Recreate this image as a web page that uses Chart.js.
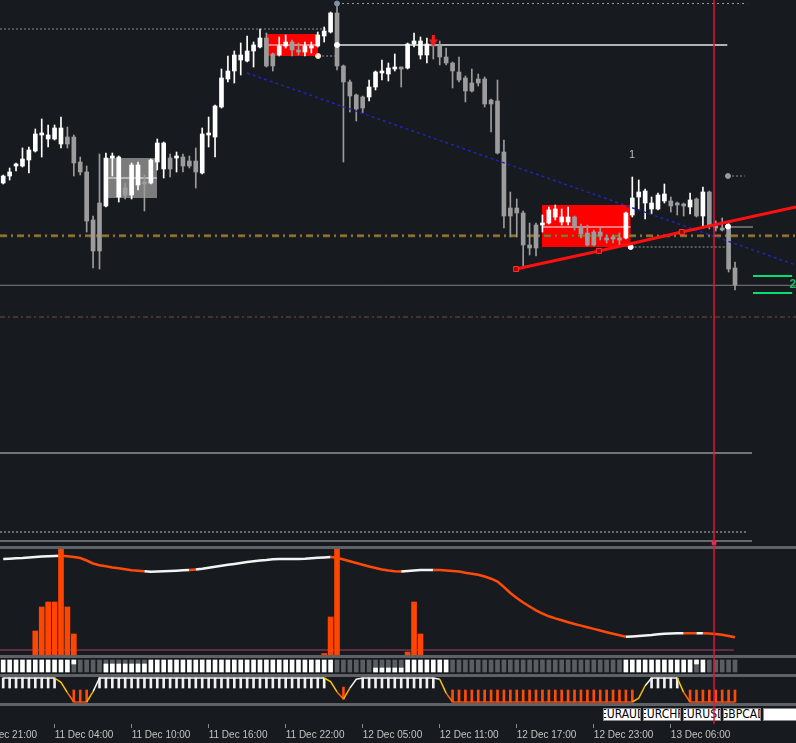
<!DOCTYPE html>
<html>
<head>
<meta charset="utf-8">
<title>GBPCAD M30</title>
<script src="https://cdn.jsdelivr.net/npm/chart.js@4.4.1/dist/chart.umd.min.js"></script>
<style>
  html, body { margin: 0; padding: 0; background: #171a1e; overflow: hidden; }
  #wrap { position: relative; width: 796px; height: 743px; overflow: hidden; background: #171a1e; }
  #wrap canvas { position: absolute; left: 0; }
  .sep { position: absolute; left: 0; width: 796px; height: 3px; background: #5e6165; }
  .sym { position: absolute; top: 708px; height: 13px; width: 38px; box-sizing: border-box;
         background: #fff; color: #000; border: 1px solid #8a8a8a;
         font: 12px "Liberation Sans Narrow", "DejaVu Sans Condensed", sans-serif; line-height: 11px;
         overflow: hidden; white-space: nowrap; text-indent: -4px; }
</style>
</head>
<body>
<div id="wrap">
  <canvas id="main" width="796" height="546" style="top:0"></canvas>
  <div class="sep" style="top:546px"></div>
  <canvas id="ind1" width="796" height="106" style="top:549px"></canvas>
  <div class="sep" style="top:655px"></div>
  <canvas id="ind2" width="796" height="16" style="top:658px"></canvas>
  <div class="sep" style="top:674px"></div>
  <canvas id="ind3" width="796" height="26" style="top:677px"></canvas>
  <div class="sep" style="top:703px"></div>
  <div class="sym" style="left:603px">EURAUD</div>
  <div class="sym" style="left:643px">EURCHF</div>
  <div class="sym" style="left:683px">EURUSD</div>
  <div class="sym" style="left:723px">GBPCAD</div>
  <div class="sym" style="left:763px;width:40px"></div>
  <canvas id="axis" width="828" height="743" style="top:0;left:-32px;pointer-events:none"></canvas>
</div>
<script>
// 30 minute bars, GBPCAD
const barOpen = [
  1.7817,1.7824,1.7834,1.7834,1.7840,1.7849,1.7865,1.7861,1.7861,1.7856,
  1.7863,1.7863,1.7838,1.7828,1.7780,1.7797,1.7794,1.7842,1.7803,1.7812,
  1.7805,1.7815,1.7818,1.7817,1.7838,1.7831,1.7842,1.7842,1.7843,1.7839,
  1.7839,1.7827,1.7865,1.7863,1.7893,1.7921,1.7929,1.7940,1.7939,1.7949,
  1.7953,1.7962,1.7946,1.7945,1.7954,1.7958,1.7950,1.7948,1.7952,1.7954,
  1.7964,1.7968,1.7987,1.7934,1.7918,1.7905,1.7903,1.7903,1.7913,1.7927,
  1.7926,1.7931,1.7932,1.7932,1.7956,1.7945,1.7945,1.7956,1.7954,1.7943,
  1.7937,1.7928,1.7922,1.7917,1.7921,1.7921,1.7900,1.7899,1.7848,1.7792,
  1.7792,1.7787,1.7755,1.7775,1.7775,1.7777,1.7783,1.7778,1.7778,1.7783,
  1.7773,1.7767,1.7768,1.7768,1.7762,1.7762,1.7762,1.7762,1.7785,1.7803,
  1.7797,1.7791,1.7791,1.7799,1.7799,1.7796,1.7796,1.7793,1.7801,1.7784,
  1.7808,1.7774,1.7772,1.7775,1.7732
];
const barHigh = [
  1.7825,1.7832,1.7837,1.7852,1.7853,1.7871,1.7881,1.7875,1.7875,1.7883,
  1.7873,1.7865,1.7843,1.7834,1.7784,1.7846,1.7847,1.7847,1.7844,1.7817,
  1.7837,1.7838,1.7825,1.7841,1.7861,1.7858,1.7846,1.7848,1.7846,1.7844,
  1.7852,1.7872,1.7883,1.7895,1.7931,1.7944,1.7949,1.7957,1.7964,1.7958,
  1.7971,1.7967,1.7947,1.7963,1.7965,1.7960,1.7957,1.7958,1.7958,1.7968,
  1.7973,1.7988,1.7997,1.7935,1.7920,1.7906,1.7904,1.7920,1.7929,1.7940,
  1.7937,1.7946,1.7933,1.7957,1.7967,1.7963,1.7962,1.7957,1.7959,1.7952,
  1.7938,1.7943,1.7924,1.7931,1.7926,1.7923,1.7901,1.7920,1.7860,1.7808,
  1.7801,1.7789,1.7777,1.7777,1.7785,1.7793,1.7795,1.7791,1.7793,1.7784,
  1.7776,1.7775,1.7770,1.7772,1.7765,1.7765,1.7767,1.7788,1.7823,1.7820,
  1.7811,1.7803,1.7807,1.7816,1.7803,1.7798,1.7797,1.7807,1.7802,1.7813,
  1.7809,1.7779,1.7782,1.7777,1.7738
];
const barLow = [
  1.7816,1.7820,1.7829,1.7833,1.7827,1.7848,1.7843,1.7853,1.7860,1.7852,
  1.7852,1.7824,1.7825,1.7768,1.7732,1.7731,1.7793,1.7824,1.7798,1.7801,
  1.7801,1.7810,1.7789,1.7816,1.7830,1.7822,1.7823,1.7828,1.7828,1.7832,
  1.7812,1.7826,1.7853,1.7843,1.7892,1.7918,1.7917,1.7925,1.7938,1.7933,
  1.7952,1.7933,1.7929,1.7944,1.7952,1.7944,1.7945,1.7944,1.7947,1.7953,
  1.7958,1.7967,1.7930,1.7838,1.7888,1.7879,1.7887,1.7899,1.7910,1.7920,
  1.7919,1.7929,1.7913,1.7931,1.7953,1.7941,1.7937,1.7941,1.7935,1.7935,
  1.7912,1.7918,1.7898,1.7908,1.7914,1.7893,1.7868,1.7846,1.7772,1.7763,
  1.7763,1.7732,1.7745,1.7744,1.7768,1.7776,1.7780,1.7775,1.7775,1.7770,
  1.7762,1.7754,1.7754,1.7760,1.7757,1.7757,1.7754,1.7761,1.7783,1.7791,
  1.7781,1.7786,1.7790,1.7797,1.7788,1.7785,1.7784,1.7786,1.7783,1.7774,
  1.7771,1.7769,1.7769,1.7728,1.7710
];
const barClose = [
  1.7824,1.7828,1.7836,1.7841,1.7850,1.7866,1.7866,1.7865,1.7872,1.7872,
  1.7856,1.7837,1.7828,1.7779,1.7749,1.7749,1.7842,1.7844,1.7843,1.7805,
  1.7835,1.7835,1.7816,1.7840,1.7857,1.7857,1.7831,1.7843,1.7834,1.7834,
  1.7828,1.7866,1.7866,1.7894,1.7922,1.7929,1.7945,1.7945,1.7949,1.7955,
  1.7962,1.7934,1.7934,1.7954,1.7958,1.7950,1.7948,1.7954,1.7954,1.7965,
  1.7969,1.7987,1.7934,1.7918,1.7904,1.7891,1.7892,1.7913,1.7928,1.7928,
  1.7932,1.7933,1.7931,1.7956,1.7959,1.7959,1.7956,1.7954,1.7943,1.7937,
  1.7929,1.7920,1.7909,1.7909,1.7917,1.7896,1.7896,1.7847,1.7784,1.7784,
  1.7787,1.7755,1.7752,1.7752,1.7777,1.7790,1.7791,1.7783,1.7783,1.7773,
  1.7766,1.7755,1.7755,1.7764,1.7760,1.7761,1.7760,1.7787,1.7802,1.7808,
  1.7809,1.7797,1.7805,1.7806,1.7794,1.7795,1.7794,1.7800,1.7784,1.7808,
  1.7774,1.7772,1.7770,1.7731,1.7715
];

// time axis
const tickBars = [-4, 8, 20, 32, 44, 56, 68, 80, 92, 104];
const tickLabels = ['10 Dec 21:00', '11 Dec 04:00', '11 Dec 10:00', '11 Dec 16:00', '11 Dec 22:00',
                    '12 Dec 05:00', '12 Dec 11:00', '12 Dec 17:00', '12 Dec 23:00', '13 Dec 06:00'];

// indicator 1: smoothed trend line + spikes
const trendLine = [
  96,96.3,96.7,97,97.5,98,98.4,98.7,99,99.2,
  98.7,98,97,94.5,91.5,89.8,88.7,87.6,86.7,85.7,
  84.8,84.2,83.7,83.3,83.6,83.8,84,84.3,84.7,85,
  85.5,86.3,87.3,88.3,89.2,90.2,91.1,92,93,93.7,
  94.5,95,95.7,96,96,96,96,96.3,96.8,97.2,
  97.6,98,97.2,95.5,93.7,92,90.2,88.5,87,85.6,
  84.6,83.8,83.4,84,84.5,85,85,85,85,84.5,
  84,83.4,82.2,81.2,80.2,78.5,76.3,73.5,68,62,
  57,52.5,48.5,44.7,41.5,38.7,36.6,34.7,32.8,31,
  29.4,27.7,26.1,24.5,22.8,21.2,19.7,18.3,18.6,19,
  19.5,20,20.8,21.2,21.5,21.7,21.7,21.8,21.8,21.7,
  21.6,21,20.2,19,17.7
];
const trendUpRuns = [[0, 9], [23, 29], [31, 51], [63, 67], [98, 106], [109, 109]];
const spikeBars = [5, 6, 7, 8, 9, 10, 11, 50, 51, 52, 63, 64, 65];
const spikeVals = [24, 48, 53, 53, 110, 48, 21, 1.5, 38, 110, 3, 53, 21];

// indicator 2: state blocks
const ind2Full = [[0, 10], [23, 51], [63, 69], [97, 107], [109, 109]];
const ind2Half = [[16, 22]];
const ind2Low = [[58, 62]];
const ind2Cap = [11, 108];

// indicator 3: oscillator 0..1
const osc = [
  1,1,1,1,1,1,1,1,1,0.82,
  0.39,0,0,0,0.43,1,1,1,1,1,
  1,1,1,1,1,1,1,1,1,1,
  1,1,1,1,1,1,1,1,1,1,
  1,1,1,1,1,1,1,1,1,1,
  1,0.85,0.42,0.12,0.58,0.95,1,1,1,1,
  1,1,1,1,1,1,1,1,0.95,0.37,
  0,0,0,0,0,0,0,0,0,0,
  0,0,0,0,0,0,0,0,0,0,
  0,0,0,0,0,0,0,0,0,0.16,
  0.68,1,1,1,1,1,0.4,0,0,0,
  0,0,0,0,0
];

// chart objects (bar index, price)
const cursorBar = 110.73;
const redBox1 = [41.1, 49.05, 1.7966, 1.7944, 1.7955];
const grayBox = [15.86, 23.96, 1.7842, 1.7802, 1.7822];
const redBox2 = [83.9, 97.75, 1.7795, 1.7753, 1.7773];
const trendBars = [79.9, 92.8, 105.7, 123.5];
const trendPrices = [1.7731, 1.7749, 1.7768, 1.7793];
const blueBars = [37.98, 123.5];
const bluePrices = [1.7927, 1.7735];
const dotBars = [52, 52, 49.05, 97.75, 112.9, 112.9];
const dotPrices = [1.79965, 1.7955, 1.7944, 1.7753, 1.77735, 1.7824];
const dotColors = ['#7f93a8', '#ffffff', '#ffe6d8', '#ffffff', '#ffffff', '#9a9a9a'];
const noteBars = [97.95, 123.0];
const notePrices = [1.7845, 1.7715];
const noteTexts = ['1', '2'];

Chart.defaults.animation = false;
Chart.defaults.font.family = '"Liberation Sans", sans-serif';
Chart.defaults.elements.point.radius = 0;
Chart.defaults.elements.point.hoverRadius = 0;
Chart.defaults.elements.line.borderWidth = 1;
Chart.defaults.plugins.legend.display = false;
Chart.defaults.plugins.tooltip.enabled = false;

const xMin = -0.5, xMax = 123.5;
const idx = barOpen.map((_, i) => i);
const inRuns = (runs, i) => runs.some(([a, b]) => i >= a && i <= b);
const candleColor = idx.map(i => barClose[i] >= barOpen[i] ? '#ffffff' : '#9c9c9c');

function hline(y, x0, x1, color, extra) {
  return Object.assign({ type: 'line', data: [{ x: x0, y: y }, { x: x1, y: y }],
    borderColor: color, borderWidth: 1, order: 12 }, extra || {});
}
function box(b, color) {
  return { type: 'line', data: [{ x: b[0], y: b[2] }, { x: b[1], y: b[2] }],
    borderWidth: 0, borderColor: 'rgba(0,0,0,0)', backgroundColor: color,
    fill: { value: b[3] }, order: 20 };
}
function baseOpts(yMin, yMax) {
  return {
    responsive: false, events: [], layout: { padding: 0, autoPadding: false },
    scales: {
      x: { type: 'linear', min: xMin, max: xMax, offset: false, display: false },
      y: { min: yMin, max: yMax, display: false }
    }
  };
}

// red down arrow marker
const arrowImg = document.createElement('canvas');
arrowImg.width = 9; arrowImg.height = 12;
const actx = arrowImg.getContext('2d');
actx.fillStyle = '#ff1a1a';
actx.fillRect(3, 0, 3, 6);
actx.beginPath(); actx.moveTo(0, 5); actx.lineTo(9, 5); actx.lineTo(4.5, 12); actx.closePath(); actx.fill();

const notesPlugin = {
  id: 'notes',
  afterDatasetsDraw(chart) {
    const { ctx, scales: { x, y } } = chart;
    ctx.save();
    ctx.textAlign = 'center';
    ctx.textBaseline = 'middle';
    noteTexts.forEach((t, k) => {
      ctx.font = k ? 'bold 12px "Liberation Sans"' : '11px "Liberation Sans"';
      ctx.fillStyle = k ? '#22b866' : '#b4bcc4';
      ctx.fillText(t, x.getPixelForValue(noteBars[k]), y.getPixelForValue(notePrices[k]));
    });
    ctx.restore();
  }
};

// main price chart
new Chart(document.getElementById('main'), {
  type: 'bar',
  data: {
    datasets: [
      box(redBox1, '#ff0000'),
      box(grayBox, '#7c7c7c'),
      box(redBox2, '#ff0000'),
      hline(redBox1[4], redBox1[0], redBox1[1], '#f0f0f0', { order: 11 }),
      hline(grayBox[4], grayBox[0], grayBox[1], '#f0f0f0', { order: 11 }),
      hline(redBox2[4], redBox2[0], redBox2[1], '#f0f0f0', { order: 11 }),
      hline(1.7971, xMin, 50.4, '#8c8c8c', { borderDash: [2, 2] }),
      hline(1.79965, 52, 115.9, '#9a9a9a', { borderDash: [2, 3] }),
      hline(1.7955, 52, 112.8, '#e6e6e6', { borderWidth: 1.3 }),
      hline(1.7944, 49.05, 52, '#9a9a9a', { borderDash: [2, 2] }),
      hline(1.7773, 112.45, 116.8, '#b0b0b0'),
      hline(1.7753, 97.75, 112.45, '#9a9a9a', { borderDash: [2, 2] }),
      hline(1.7824, 112.9, 115.5, '#8a8a8a', { borderDash: [2, 2] }),
      hline(1.77643, xMin, xMax, '#2e7d3a', { borderWidth: 3, borderDash: [7, 4, 2, 4], order: 13 }),
      hline(1.77643, xMin, xMax, '#d8581c', { borderWidth: 1.5, borderDash: [7, 4, 2, 4], order: 12 }),
      hline(1.77147, xMin, xMax, '#7e7e7e'),
      hline(1.7683, xMin, xMax, '#7c4a32', { borderDash: [5, 3, 2, 3] }),
      hline(1.7547, xMin, 116.65, '#cfcfcf'),
      hline(1.7468, xMin, 116.0, '#bdbdbd', { borderDash: [2, 2] }),
      hline(1.7459, xMin, 116.65, '#b8b8b8'),
      hline(1.7724, 116.8, 122.9, '#00e070', { borderWidth: 2 }),
      hline(1.7707, 116.8, 122.9, '#00e070', { borderWidth: 2 }),
      {
        label: 'wick', order: 6, grouped: false, barThickness: 1,
        data: idx.map(i => ({ x: i, y: [barLow[i], barHigh[i]] })),
        backgroundColor: candleColor
      },
      {
        label: 'body', order: 5, grouped: false, barThickness: 4, minBarLength: 2,
        data: idx.map(i => ({ x: i, y: [barOpen[i], barClose[i]] })),
        backgroundColor: candleColor
      },
      {
        type: 'line', order: 2, borderColor: '#2323b4', borderWidth: 1.5, borderDash: [3, 3],
        data: blueBars.map((b, k) => ({ x: b, y: bluePrices[k] }))
      },
      {
        type: 'line', order: 1, borderColor: '#ff1010', borderWidth: 3,
        data: trendBars.map((b, k) => ({ x: b, y: trendPrices[k] })),
        pointStyle: 'rect', pointRadius: [3.5, 3.5, 3.5, 0],
        pointBackgroundColor: '#b00000', pointBorderColor: '#ff3030', pointBorderWidth: 1
      },
      {
        type: 'line', order: 1, showLine: false,
        data: dotBars.map((b, k) => ({ x: b, y: dotPrices[k] })),
        pointRadius: 2.5, pointBackgroundColor: dotColors, pointBorderColor: dotColors
      },
      {
        type: 'line', order: 1, showLine: false,
        data: [{ x: 67, y: 1.79595 }], pointStyle: arrowImg, pointRadius: 6
      },
      {
        type: 'line', order: 1, showLine: false,
        data: [{ x: cursorBar, y: 1.7457 }], pointStyle: 'rect', pointRadius: 2.5,
        pointBackgroundColor: '#ff6a8a', pointBorderColor: '#ff2050'
      }
    ]
  },
  options: baseOpts(1.7454, 1.8000),
  plugins: [notesPlugin]
});

// indicator 1
const trendUp = idx.map(i => inRuns(trendUpRuns, i));
new Chart(document.getElementById('ind1'), {
  type: 'bar',
  data: {
    datasets: [
      {
        order: 1, grouped: false, barThickness: 5,
        data: spikeBars.map((b, k) => ({ x: b, y: [0, spikeVals[k]] })),
        backgroundColor: '#ff4500'
      },
      {
        type: 'line', order: 2, borderWidth: 2.5,
        data: trendLine.map((v, i) => ({ x: i, y: v })),
        segment: { borderColor: c => trendUp[c.p1DataIndex] ? '#f4f4f4' : '#ff4a0a' }
      },
      hline(5, xMin, 113.8, '#a8406e', { order: 3 })
    ]
  },
  options: baseOpts(0, 106)
});

// indicator 2
const ind2Top = idx.map(i => {
  if (inRuns(ind2Full, i)) return 14;
  if (inRuns(ind2Half, i)) return 10;
  if (inRuns(ind2Low, i)) return 6;
  return 0;
});
new Chart(document.getElementById('ind2'), {
  type: 'bar',
  data: {
    datasets: [
      {
        order: 2, grouped: false, barThickness: 4,
        data: idx.filter(i => ind2Top[i] < 14).map(i => ({ x: i, y: [2, 14] })),
        backgroundColor: '#5a5d61'
      },
      {
        order: 1, grouped: false, barThickness: 4,
        data: idx.filter(i => ind2Top[i] > 0).map(i => ({ x: i, y: [2, ind2Top[i]] })),
        backgroundColor: '#ffffff'
      },
      {
        order: 1, grouped: false, barThickness: 4,
        data: ind2Cap.map(i => ({ x: i, y: [10, 14] })),
        backgroundColor: '#ffffff'
      }
    ]
  },
  options: baseOpts(0, 16)
});

// indicator 3
const oscLevel = osc.map(v => 1 + 24 * v);
function oscColor(c) {
  const a = osc[c.p0DataIndex], b = osc[c.p1DataIndex];
  if (a >= 0.95 && b >= 0.95) return '#f4f4f4';
  if (a <= 0.15 && b <= 0.15) return '#ff4a0a';
  const avg = (a + b) / 2;
  if (b > a) return avg > 0.6 ? '#f4f4f4' : '#f2b400';
  return avg > 0.5 ? '#ffc400' : '#ff6a00';
}
new Chart(document.getElementById('ind3'), {
  type: 'bar',
  data: {
    datasets: [
      {
        type: 'line', order: 1, borderWidth: 1.5,
        data: oscLevel.map((v, i) => ({ x: i, y: v })),
        segment: { borderColor: oscColor }
      },
      {
        order: 2, grouped: false, barThickness: 2,
        data: idx.filter(i => osc[i] >= 0.97).map(i => ({ x: i, y: [oscLevel[i] - 10, oscLevel[i]] })),
        backgroundColor: '#f0f0f0'
      },
      {
        order: 2, grouped: false, barThickness: 2,
        data: idx.filter(i => osc[i] <= 0.15).map(i => ({ x: i, y: [oscLevel[i], oscLevel[i] + 12] })),
        backgroundColor: '#ff4a0a'
      }
    ]
  },
  options: baseOpts(0, 26)
});

// time axis + cursor line over all panels
new Chart(document.getElementById('axis'), {
  type: 'line',
  data: {
    datasets: [{
      data: [{ x: cursorBar, y: 0 }, { x: cursorBar, y: 1 }],
      borderColor: '#e0143c', borderWidth: 1.5
    }]
  },
  options: {
    responsive: false, events: [], layout: { padding: 0, autoPadding: false },
    scales: {
      x: {
        type: 'linear', min: -5.5, max: xMax, offset: false,
        afterBuildTicks: s => { s.ticks = tickBars.map(v => ({ value: v })); },
        afterFit: s => { s.height = 19; },
        ticks: {
          autoSkip: false, maxRotation: 0, align: 'start', padding: 1,
          color: '#c4c4c4', font: { size: 10 },
          callback: v => tickLabels[tickBars.indexOf(v)]
        },
        grid: { drawOnChartArea: false, color: '#8a8a8a', tickLength: 4 },
        border: { display: false }
      },
      y: { min: 0, max: 1, display: false }
    }
  }
});
</script>
</body>
</html>
